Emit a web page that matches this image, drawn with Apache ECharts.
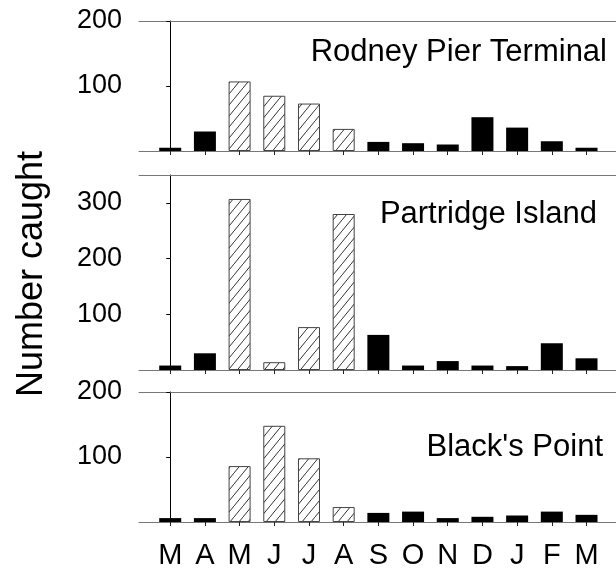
<!DOCTYPE html>
<html>
<head>
<meta charset="utf-8">
<script src="https://cdn.jsdelivr.net/npm/echarts@6/dist/echarts.min.js"></script>
<style>
html, body { margin: 0; padding: 0; background: #fff; }
#main { width: 616px; height: 573px; }
</style>
</head>
<body>
<div id="main"></div>
<script>
var months = ['M', 'A', 'M', 'J', 'J', 'A', 'S', 'O', 'N', 'D', 'J', 'F', 'M'];
var monthPos = [0, 1, 2, 3, 4, 5, 6, 7, 8, 9, 10, 11, 12];
var rodneyPier = [5, 30, 107, 85, 73, 34, 14, 12, 10, 52, 36, 15, 5];
var partridgeIsland = [8, 30, 307, 14, 77, 280, 63, 8, 16, 8, 7, 48, 21];
var blacksPoint = [6, 6, 86, 148, 98, 23, 14, 16, 6, 8, 10, 16, 11];
var hatchedMonths = [2, 3, 4, 5]; // May - Aug
var siteNames = ['Rodney Pier Terminal', 'Partridge Island', "Black's Point"];
var yMax = [200, 350, 200];
var yTicks = [[100, 200], [100, 200, 300], [100, 200]];

var font = 'Liberation Sans, Arial, sans-serif';

// diagonal hatch pattern
var hatch = document.createElement('canvas');
hatch.width = 9;
hatch.height = 11;
var hctx = hatch.getContext('2d');
hctx.fillStyle = '#fff';
hctx.fillRect(0, 0, 9, 11);
hctx.strokeStyle = '#333';
hctx.lineWidth = 1;
hctx.beginPath();
hctx.moveTo(-1, 11 + 11 / 9);
hctx.lineTo(10, -11 / 9);
hctx.moveTo(-10, 11 + 11 / 9 - 11);
hctx.lineTo(1, -11 / 9 - 11);
hctx.moveTo(8, 11 + 11 / 9 + 11);
hctx.lineTo(19, -11 / 9 + 11);
hctx.stroke();

var panels = [rodneyPier, partridgeIsland, blacksPoint];
var grids = [
	{ left: 139, top: 21, width: 478, height: 130 },
	{ left: 139, top: 175, width: 478, height: 195 },
	{ left: 139, top: 392, width: 478, height: 130 }
];
var titleTops = [37, 199, 432];
var titleRights = [9, 19, 13];

var xAxes = [];
var yAxes = [];
var series = [];
var titles = [];

for (var p = 0; p < 3; p++) {
	var last = (p == 2);
	xAxes.push({
		type : 'value',
		gridIndex : p,
		min : -0.9,
		max : 12.85,
		splitLine : { show : false },
		axisLine : { show : true, lineStyle : { color : '#777', width : 1 } },
		axisTick : {
			show : true,
			customValues : monthPos,
			length : 4,
			lineStyle : { color : '#222' }
		},
		axisLabel : {
			show : last,
			customValues : monthPos,
			margin : 19,
			fontSize : 29,
			fontFamily : font,
			color : '#000',
			formatter : function(v) {
				return months[Math.round(v)];
			}
		}
	});
	// top border line
	xAxes.push({
		type : 'value',
		gridIndex : p,
		position : 'top',
		min : 0,
		max : 1,
		splitLine : { show : false },
		axisLine : { show : true, lineStyle : { color : '#777', width : 1 } },
		axisTick : { show : false },
		axisLabel : { show : false }
	});
	yAxes.push({
		type : 'value',
		gridIndex : p,
		min : 0,
		max : yMax[p],
		splitLine : { show : false },
		axisLine : { show : true, lineStyle : { color : '#000', width : 1 } },
		axisTick : {
			show : true,
			customValues : yTicks[p],
			length : 4,
			lineStyle : { color : '#000' }
		},
		axisLabel : {
			customValues : yTicks[p],
			margin : 17,
			fontSize : 27,
			fontFamily : font,
			color : '#000'
		}
	});

	var data = [];
	for (var i = 0; i < months.length; i++) {
		var item = { value : [monthPos[i], panels[p][i]] };
		if (hatchedMonths.indexOf(i) >= 0) {
			item.itemStyle = {
				color : { image : hatch, repeat : 'repeat' },
				borderColor : '#444',
				borderWidth : 1
			};
		}
		data.push(item);
	}
	series.push({
		name : siteNames[p],
		type : 'bar',
		xAxisIndex : p * 2,
		yAxisIndex : p,
		barWidth : 22,
		itemStyle : { color : '#000' },
		silent : true,
		data : data
	});

	titles.push({
		text : siteNames[p],
		right : titleRights[p],
		top : titleTops[p],
		padding : 0,
		textStyle : {
			fontSize : 31,
			fontWeight : 'normal',
			fontFamily : font,
			color : '#000'
		}
	});
}

var chart = echarts.init(document.getElementById('main'));
chart.setOption({
	animation : false,
	title : titles,
	grid : grids,
	xAxis : xAxes,
	yAxis : yAxes,
	series : series,
	graphic : [ {
		type : 'text',
		x : 32,
		y : 274,
		rotation : Math.PI / 2,
		style : {
			text : 'Number caught',
			fontSize : 36,
			fontFamily : font,
			fill : '#000',
			align : 'center',
			verticalAlign : 'middle'
		}
	} ]
});
</script>
</body>
</html>
